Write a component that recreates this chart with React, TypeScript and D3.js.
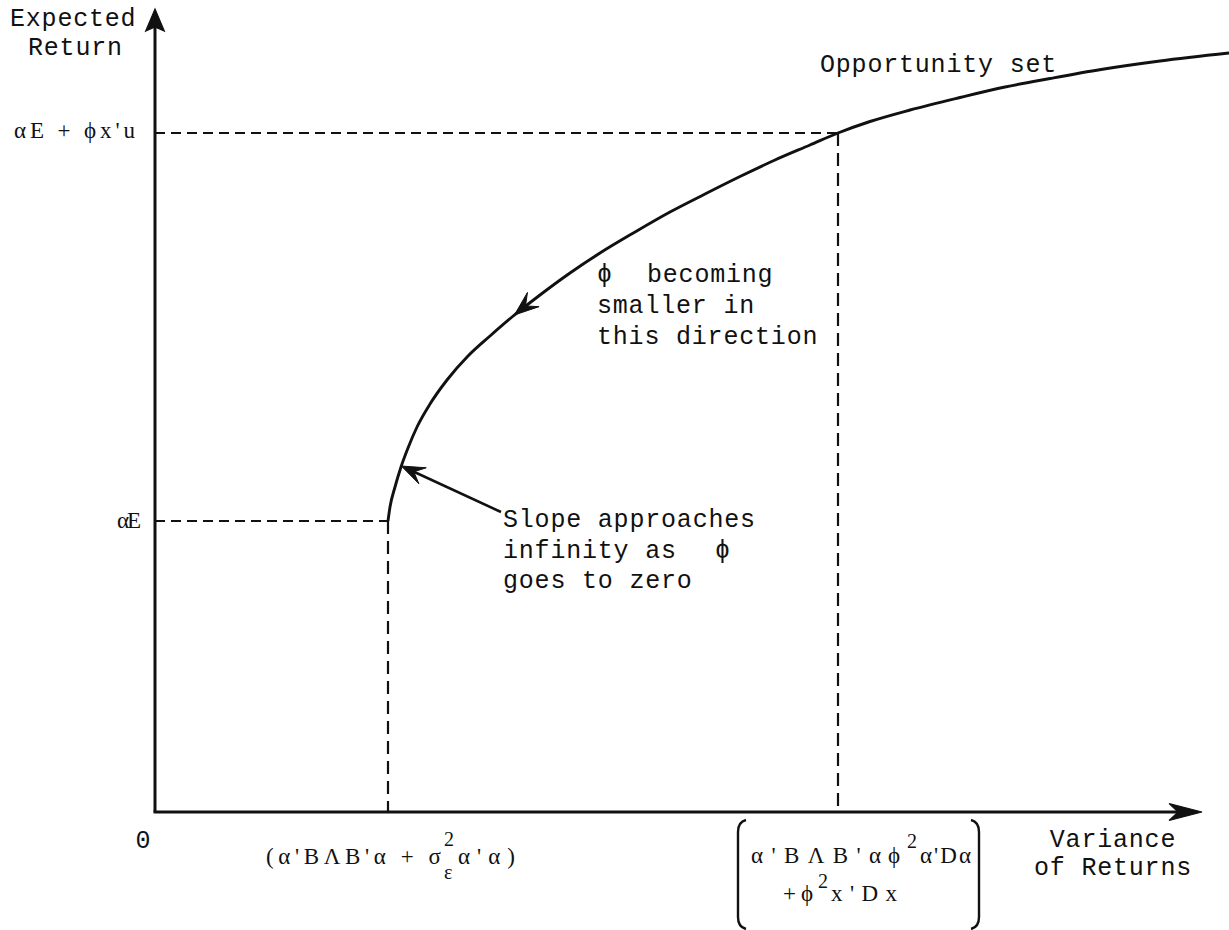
import React, { useEffect, useRef } from 'react';
import * as d3 from 'd3';

const W = 1229;
const H = 930;

// opportunity set: variance (x) and expected return (y)
const curveVariance = [23.3, 23.5, 24.0, 24.6, 25.3, 26.2, 27.5, 29.2, 31.3, 33.5, 35.7, 38.5, 41.5, 44.5, 48.0, 51.5, 55.0, 58.5, 62.0, 65.5, 68.3, 71.5, 75.5, 80.5, 85.0, 89.5, 94.6, 100.5, 107.4];
const curveReturn = [29.1, 30.5, 32.5, 34.5, 36.4, 38.5, 40.8, 43.2, 45.6, 47.6, 49.5, 51.7, 53.9, 55.9, 58.0, 60.0, 61.8, 63.55, 65.2, 66.7, 67.9, 69.05, 70.2, 71.45, 72.5, 73.35, 74.25, 75.1, 75.9];

// the two marked points on the curve (dashed guides)
const markVariance = [23.3, 68.3];
const markReturn = [29.1, 67.9];

// axis extents
const xMax = 104.7;
const yMax = 80.3;

// where the arrows sit
const directionArrowReturn = 49.7;
const slopeArrowReturn = 34.6;
const slopeNoteVariance = 34.6;
const slopeNoteReturn = 30.0;

export default function App() {
  const ref = useRef<SVGSVGElement>(null);

  useEffect(() => {
    const svg = d3.select(ref.current);
    svg.selectAll('*').remove();

    const x = d3.scaleLinear().domain([0, 107.4]).range([155, 1229]);
    const y = d3.scaleLinear().domain([0, 80]).range([812, 12]);

    const mono = "'Liberation Mono', 'DejaVu Sans Mono', monospace";
    const serif = "'Liberation Serif', 'DejaVu Serif', serif";
    const ink = '#111';
    const ms = 23; // math font size
    const ss = 20; // superscript size

    const head = (tx: number, ty: number, a: number, len: number, spread: number, notch: number) => {
      const b1x = tx - len * Math.cos(a - spread), b1y = ty - len * Math.sin(a - spread);
      const b2x = tx - len * Math.cos(a + spread), b2y = ty - len * Math.sin(a + spread);
      const ix = tx - len * notch * Math.cos(a), iy = ty - len * notch * Math.sin(a);
      return `M${tx},${ty}L${b1x},${b1y}L${ix},${iy}L${b2x},${b2y}Z`;
    };

    const txt = (s: string, px: number, py: number, font: string, size: number, extra: any = {}) => {
      const t = svg.append('text')
        .attr('x', px).attr('y', py)
        .attr('font-family', font)
        .attr('font-size', size)
        .attr('fill', ink)
        .text(s);
      Object.keys(extra).forEach(k => t.attr(k, extra[k]));
      return t;
    };

    // dashed guides
    markVariance.forEach((v, i) => {
      const r = markReturn[i];
      svg.append('line')
        .attr('x1', x(0)).attr('x2', x(v))
        .attr('y1', y(r)).attr('y2', y(r))
        .attr('stroke', ink).attr('stroke-width', 2.2)
        .attr('stroke-dasharray', '10,6');
      svg.append('line')
        .attr('x1', x(v)).attr('x2', x(v))
        .attr('y1', y(r)).attr('y2', y(0))
        .attr('stroke', ink).attr('stroke-width', 2.2)
        .attr('stroke-dasharray', '13,7');
    });

    // axes
    svg.append('line')
      .attr('x1', x(0)).attr('x2', x(0))
      .attr('y1', y(0)).attr('y2', y(yMax) + 4)
      .attr('stroke', ink).attr('stroke-width', 3);
    svg.append('path')
      .attr('d', head(x(0), y(yMax), -Math.PI / 2, 24, 0.4, 0.75))
      .attr('fill', ink).attr('stroke', ink).attr('stroke-width', 1.2);
    svg.append('line')
      .attr('x1', x(0) - 1.5).attr('x2', x(xMax) - 6)
      .attr('y1', y(0)).attr('y2', y(0))
      .attr('stroke', ink).attr('stroke-width', 3);
    svg.append('path')
      .attr('d', head(x(xMax), y(0), 0, 34, 0.25, 0.7))
      .attr('fill', ink).attr('stroke', ink).attr('stroke-width', 1.2);

    // opportunity set
    const pts: [number, number][] = curveVariance.map((v, i) => [v, curveReturn[i]]);
    const line = d3.line<[number, number]>()
      .x(d => x(d[0]))
      .y(d => y(d[1]))
      .curve(d3.curveMonotoneX);
    const path = svg.append('path')
      .attr('d', line(pts))
      .attr('fill', 'none')
      .attr('stroke', ink)
      .attr('stroke-width', 2.9);

    const node = path.node() as SVGPathElement;
    const total = node.getTotalLength();
    const lengthAt = (r: number) => {
      let lo = 0, hi = total;
      const target = y(r);
      for (let k = 0; k < 40; k++) {
        const mid = (lo + hi) / 2;
        if (node.getPointAtLength(mid).y > target) lo = mid; else hi = mid;
      }
      return (lo + hi) / 2;
    };

    // arrow pointing down the curve
    const la = lengthAt(directionArrowReturn);
    const pa = node.getPointAtLength(la);
    const pBack = node.getPointAtLength(la + 3);
    const pFwd = node.getPointAtLength(la - 3);
    const angA = Math.atan2(pFwd.y - pBack.y, pFwd.x - pBack.x);
    svg.append('path')
      .attr('d', head(pa.x, pa.y, angA, 26, 0.36, 0.55))
      .attr('fill', ink).attr('stroke', ink).attr('stroke-width', 1);

    // slope note arrow
    const ls = node.getPointAtLength(lengthAt(slopeArrowReturn));
    const tailX = x(slopeNoteVariance), tailY = y(slopeNoteReturn);
    const angS = Math.atan2(ls.y - tailY, ls.x - tailX);
    svg.append('line')
      .attr('x1', tailX).attr('y1', tailY)
      .attr('x2', ls.x - 12 * Math.cos(angS)).attr('y2', ls.y - 12 * Math.sin(angS))
      .attr('stroke', ink).attr('stroke-width', 2.6);
    svg.append('path')
      .attr('d', head(ls.x, ls.y, angS, 25, 0.36, 0.55))
      .attr('fill', ink).attr('stroke', ink).attr('stroke-width', 1);

    // axis titles
    const ls25 = { 'letter-spacing': 0.8 };
    txt('Expected', 10, 26, mono, 25, ls25);
    txt('Return', 28, 55, mono, 25, ls25);
    txt('Variance', 1113, 847, mono, 25, { ...ls25, 'text-anchor': 'middle' });
    txt('of Returns', 1113, 875, mono, 25, { ...ls25, 'text-anchor': 'middle' });
    txt('0', x(0) - 12, y(0) + 36, mono, 25, { 'text-anchor': 'middle' });

    // y labels at the guides
    txt('αE', x(0) - 14, y(markReturn[0]) + 7, serif, ms, { 'text-anchor': 'end', textLength: 24, lengthAdjust: 'spacing' });
    txt("αE + ϕx'u", x(0) - 20, y(markReturn[1]) + 5, serif, ms, { 'text-anchor': 'end', textLength: 121, lengthAdjust: 'spacing' });

    // x label at the first guide
    const t1 = x(markVariance[0]);
    const b1 = y(0) + 52;
    txt("(α'BΛB'α + σ", t1 - 122, b1, serif, ms, { textLength: 175, lengthAdjust: 'spacing' });
    txt('2', t1 + 56, b1 - 18, serif, ss);
    txt('ε', t1 + 56, b1 + 15, serif, ss);
    txt("α'α)", t1 + 70, b1, serif, ms, { textLength: 57, lengthAdjust: 'spacing' });

    // x label at the second guide, in tall brackets
    const t2 = x(markVariance[1]);
    const r1 = y(0) + 51;
    const r2 = y(0) + 89;
    txt("α'BΛB'α", t2 - 87, r1, serif, ms, { textLength: 130, lengthAdjust: 'spacing' });
    txt('ϕ', t2 + 50, r1, serif, ms);
    txt('2', t2 + 69, r1 - 15, serif, ss);
    txt("α'Dα", t2 + 82, r1, serif, ms, { textLength: 51, lengthAdjust: 'spacing' });
    txt('+', t2 - 55, r2, serif, ms);
    txt('ϕ', t2 - 37, r2, serif, ms);
    txt('2', t2 - 20, r2 - 13, serif, ss);
    txt("x'Dx", t2 - 7, r2, serif, ms, { textLength: 66, lengthAdjust: 'spacing' });
    const top = y(0) + 8;
    const bot = y(0) + 117;
    const lb = t2 - 100, rb = t2 + 141;
    svg.append('path')
      .attr('d', `M${lb + 8},${top}Q${lb},${top + 2} ${lb},${top + 12}L${lb},${bot - 12}Q${lb},${bot - 2} ${lb + 8},${bot}`)
      .attr('fill', 'none').attr('stroke', ink).attr('stroke-width', 2.4);
    svg.append('path')
      .attr('d', `M${rb - 8},${top}Q${rb},${top + 2} ${rb},${top + 12}L${rb},${bot - 12}Q${rb},${bot - 2} ${rb - 8},${bot}`)
      .attr('fill', 'none').attr('stroke', ink).attr('stroke-width', 2.4);

    // notes
    txt('Opportunity set', 820, 72, mono, 25, ls25);
    txt('ϕ', 597, 282, mono, 25);
    txt('becoming', 647, 282, mono, 25, ls25);
    txt('smaller in', 597, 313, mono, 25, ls25);
    txt('this direction', 597, 344, mono, 25, ls25);
    txt('Slope approaches', 503, 527, mono, 25, ls25);
    txt('infinity as', 503, 558, mono, 25, ls25);
    txt('ϕ', 715, 558, mono, 25);
    txt('goes to zero', 503, 588, mono, 25, ls25);
  }, []);

  return (
    <svg
      ref={ref}
      width={W}
      height={H}
      style={{ position: 'absolute', left: 0, top: 0, background: '#fff', display: 'block' }}
    />
  );
}
